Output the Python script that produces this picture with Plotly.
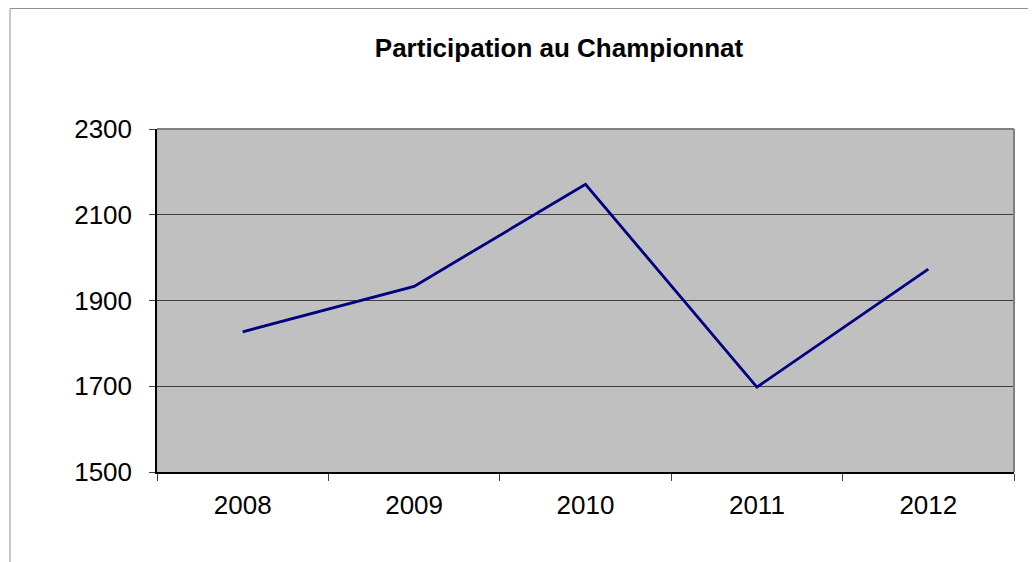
import plotly.graph_objects as go

years = ["2008", "2009", "2010", "2011", "2012"]
participants = [1827, 1933, 2171, 1698, 1973]
y_ticks = [1500, 1700, 1900, 2100, 2300]

# page body has an 8px margin: figure coords = screen coords - 8
OFF = 8
W, H = 1036 - OFF, 562 - OFF
L, T = 157 - OFF, 129 - OFF
R = W - (1014 - OFF)
B = H - (472 - OFF)
pw, ph = W - L - R, H - T - B

def px_x(x):
    return (x - OFF - L) / pw

def px_y(y):
    return (H - B - (y - OFF)) / ph

fig = go.Figure()
fig.add_trace(go.Scatter(
    x=years, y=participants, mode="lines",
    line=dict(color="#000080", width=2.8),
    showlegend=False, hoverinfo="x+y",
))

font = "Liberation Sans, Arial, sans-serif"

fig.update_layout(
    width=W, height=H,
    margin=dict(l=L, r=R, t=T, b=B),
    paper_bgcolor="white",
    plot_bgcolor="#C0C0C0",
    font=dict(family=font, size=26, color="black"),
    title=dict(
        text="<b>Participation au Championnat</b>",
        font=dict(family=font, size=26, color="black"),
        x=(559 - OFF) / W, xanchor="center",
        y=1 - (48 - OFF) / H, yanchor="middle",
    ),
    xaxis=dict(
        type="category", range=[-0.5, 4.5],
        tickson="boundaries", ticks="outside", ticklen=7, tickwidth=1,
        tickcolor="#404040",
        showline=True, linecolor="black", linewidth=1.5,
        showgrid=False, zeroline=False,
        ticklabelstandoff=9,
        tickfont=dict(size=26),
    ),
    yaxis=dict(
        range=[1500, 2300], tickvals=y_ticks,
        ticks="outside", ticklen=6, tickwidth=1, tickcolor="#404040",
        showline=True, linecolor="black", linewidth=1.5,
        showgrid=True, gridcolor="#404040", gridwidth=1,
        zeroline=False, ticklabelstandoff=12,
        tickfont=dict(size=26),
    ),
    shapes=[
        # plot area top & right border (gray)
        dict(type="line", xref="paper", yref="paper", x0=0, x1=1, y0=1, y1=1,
             line=dict(color="#808080", width=2)),
        dict(type="line", xref="paper", yref="paper", x0=1, x1=1, y0=0, y1=1,
             line=dict(color="#808080", width=2)),
        # outer chart border (left & top)
        dict(type="line", xref="paper", yref="paper",
             x0=px_x(10), x1=px_x(10), y0=px_y(OFF + 0.5), y1=px_y(570),
             line=dict(color="#909090", width=1)),
        dict(type="line", xref="paper", yref="paper",
             x0=px_x(10), x1=px_x(1045), y0=px_y(OFF + 0.5), y1=px_y(OFF + 0.5),
             line=dict(color="#909090", width=1)),
    ],
)

fig.write_html("out.html")
